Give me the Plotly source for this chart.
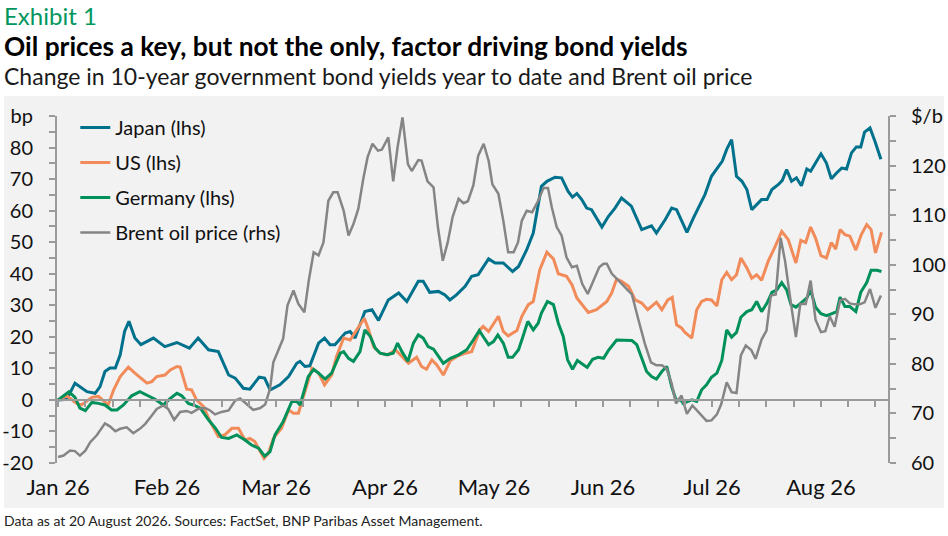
import plotly.graph_objs as go

# x = trading-day index from start of year (labels every 20 days, ticks every 5)
month_pos = [0, 20, 40, 60, 80, 100, 120, 140]
month_labels = ["Jan 26", "Feb 26", "Mar 26", "Apr 26", "May 26", "Jun 26", "Jul 26", "Aug 26"]

bp_ticks = [-20, -10, 0, 10, 20, 30, 40, 50, 60, 70, 80, 90]
bp_labels = ["-20", "-10", "0", "10", "20", "30", "40", "50", "60", "70", "80", "bp"]
oil_ticks = [60, 70, 80, 90, 100, 110, 120, 130]
oil_labels = ["60", "70", "80", "90", "100", "110", "120", "$/b"]

japan_x = [0, 1.6, 3.1, 4.0, 5.3, 6.8, 7.7, 8.6, 9.5, 10.5, 11.4, 12.2, 13.0, 14.1, 15.2, 17.5, 19.6,
           21.8, 24.1, 25.7, 27.6, 29.4, 31.3, 32.5, 34.0, 35.2, 36.9, 37.9, 38.9, 39.2, 40.7, 42.3,
           43.8, 44.4, 45.3, 46.2, 47.8, 48.9, 49.9, 50.8, 52.7, 53.6, 54.5, 56.3, 57.6, 58.8, 60.6,
           62.5, 64.0, 66.1, 67.0, 68.2, 69.8, 71.0, 71.9, 73.1, 74.7, 75.9, 77.1, 77.4, 79.0, 80.2,
           81.7, 83.4, 84.5, 86.0, 87.2, 88.7, 89.7, 91.2, 92.4, 93.6, 94.4, 95.2, 96.1, 97.0, 97.9,
           99.8, 101.0, 102.2, 103.4, 105.2, 107.1, 108.9, 109.8, 111.4, 112.6, 113.5, 114.4, 115.4,
           116.6, 117.8, 118.7, 119.9, 121.2, 121.9, 122.7, 123.6, 124.5, 125.5, 126.4, 127.3, 128.2,
           129.1, 130.1, 131.0, 132.2, 132.9, 133.7, 134.6, 135.5, 136.4, 137.4, 138.1, 139.0, 140.0,
           141.0, 141.9, 142.9, 143.8, 144.7, 145.6, 146.5, 147.3, 148.0, 149.0, 149.9, 151.0]
japan_bp = [0, 0.2, 5.3, 4.2, 2.6, 2.1, 4.2, 9.0, 10.1, 10.1, 14.3, 21.7, 24.9, 19.6, 17.5, 19.6, 16.9,
            18.2, 16.4, 19.6, 15.9, 15.3, 7.9, 6.9, 3.7, 3.4, 7.2, 6.9, 3.2, 3.4, 4.8, 7.4,
            11.6, 12.2, 10.6, 10.8, 18.0, 19.6, 17.5, 17.5, 21.2, 21.7, 19.6, 28.0, 28.6, 25.2, 31.7,
            33.9, 31.2, 37.6, 37.6, 34.1, 34.4, 33.3, 31.7, 33.3, 36.0, 39.2, 39.7, 40.5, 44.7, 43.4,
            43.4, 40.7, 42.3, 47.6, 52.9, 67.7, 69.3, 70.6, 70.4, 66.1, 64.3, 65.4, 63.5, 60.8, 60.3,
            54.8, 58.2, 60.8, 64.0, 61.4, 54.0, 55.2, 52.9, 57.1, 60.8, 60.3, 57.1, 53.1,
            57.7, 61.9, 65.1, 70.9, 74.1, 75.7, 79.4, 82.5, 70.9, 69.3, 66.7, 60.3, 61.9,
            63.5, 63.5, 66.7, 68.3, 69.6, 73.0, 69.3, 70.4, 67.9, 73.2, 72.5, 75.1, 78.0,
            75.1, 70.1, 72.0, 73.5, 73.2, 78.3, 80.2, 80.2, 84.9, 86.2, 82.0, 76.3]

us_x = [0, 1.6, 3.4, 4.3, 6.2, 7.4, 9.2, 10.2, 11.4, 12.9, 14.1, 15.2, 16.3, 17.2, 18.1, 19.6, 20.6,
        21.8, 22.4, 23.6, 24.5, 25.4, 26.7, 27.9, 29.4, 30.6, 31.9, 33.1, 34.3, 35.2, 36.1, 37.8,
        38.6, 39.5, 41.0, 42.3, 43.2, 44.1, 45.0, 46.6, 47.8, 48.9, 50.2, 51.1, 52.4, 53.6, 54.5,
        56.2, 57.0, 57.9, 59.1, 60.6, 61.9, 63.1, 64.3, 65.8, 66.7, 67.6, 68.6, 69.5, 70.7, 72.0,
        73.2, 74.7, 75.9, 77.4, 78.0, 79.0, 79.9, 80.8, 81.7, 82.6, 84.2, 85.1, 86.3, 87.2, 88.4,
        89.7, 90.9, 91.8, 93.3, 94.3, 95.2, 96.1, 97.3, 98.8, 100.7, 101.6, 102.5, 103.4, 104.7,
        105.9, 107.1, 108.2, 109.8, 110.8, 111.9, 112.7, 113.5, 114.4, 115.0, 116.3, 117.2, 118.1,
        119.0, 119.9, 120.9, 121.8, 122.7, 123.6, 124.5, 125.3, 126.4, 127.3, 128.2, 129.1, 130.3,
        131.6, 132.8, 134.0, 135.4, 136.3, 137.2, 138.1, 139.0, 140.0, 141.0, 141.9, 142.7, 143.5,
        144.4, 145.3, 146.4, 147.4, 148.4, 149.2, 150.0, 151.1]
us_bp = [0, 1.3, -1.1, -1.6, 0.8, 1.1, -1.6, 3.2, 7.4, 10.4, 8.5, 6.9, 5.3, 5.8, 7.4, 7.9, 9.5,
         10.6, 10.4, 3.4, 3.2, 0, -2.1, -6.9, -11.6, -11.1, -9.0, -9.0, -12.7, -12.2, -13.2, -18.5,
         -16.9, -12.2, -9.0, -3.2, -4.2, -4.2, 1.1, 10.0, 8.5, 4.8, 7.9, 13.8, 19.6, 19.0, 21.4,
         25.9, 22.2, 16.9, 14.8, 14.3, 15.9, 13.8, 11.6, 13.5, 10.6, 9.7, 12.7, 11.1, 7.9, 12.5,
         13.8, 14.8, 15.3, 22.2, 23.3, 21.7, 24.3, 26.5, 21.7, 20.3, 22.0, 26.5, 30.2, 31.2, 41.3,
         46.8, 44.7, 40.0, 39.2, 36.5, 32.3, 30.2, 27.7, 28.6, 31.2, 33.9, 38.3, 37.6, 36.0,
         31.7, 30.7, 28.6, 31.0, 28.6, 31.7, 32.5, 23.8, 22.8, 21.5, 19.6, 28.6, 31.2,
         31.9, 31.7, 29.8, 38.1, 40.4, 38.1, 39.7, 45.0, 41.8, 38.6, 39.7, 37.9, 43.9,
         48.7, 53.4, 50.8, 43.4, 50.6, 49.9, 54.8, 51.3, 45.7, 45.0, 49.9, 47.8, 54.0,
         52.4, 51.9, 47.5, 52.4, 55.6, 54.0, 46.6, 53.1]

germany_x = [0, 2.0, 3.1, 4.0, 5.0, 6.2, 7.4, 8.6, 9.8, 10.8, 12.0, 13.5, 15.0, 16.3, 17.8, 19.3, 20.6,
             21.8, 22.7, 23.9, 24.8, 26.1, 27.6, 28.9, 30.0, 31.3, 32.8, 34.3, 35.5, 36.8, 37.9, 38.9,
             39.8, 41.3, 42.9, 43.8, 44.4, 45.9, 46.9, 47.8, 49.0, 50.2, 51.8, 52.4, 53.3, 54.2, 55.4,
             56.3, 57.3, 58.2, 59.1, 60.3, 61.5, 62.3, 63.1, 64.2, 65.2, 66.1, 67.0, 67.9, 68.9, 70.7,
             72.0, 73.5, 75.0, 76.2, 77.3, 78.0, 79.0, 79.9, 80.7, 81.7, 82.6, 83.4, 84.5, 85.4, 86.2,
             87.2, 88.1, 88.7, 89.8, 90.9, 91.8, 92.7, 93.5, 94.4, 95.3, 96.2, 97.1, 98.1, 99.1, 100.1,
             101.0, 102.5, 103.7, 105.3, 106.2, 107.1, 108.0, 108.9, 109.8, 110.8, 111.7, 112.6, 113.4,
             114.3, 114.7, 116.3, 117.2, 118.1, 119.0, 119.9, 120.9, 121.8, 122.7, 123.6, 124.5, 125.3,
             126.4, 127.3, 128.2, 129.1, 130.1, 131.0, 131.9, 132.8, 133.7, 134.5, 135.4, 136.3, 137.4,
             138.1, 139.0, 140.0, 141.0, 141.9, 142.9, 143.5, 144.4, 145.3, 146.4, 147.3, 148.4, 149.2,
             150.3, 151.1]
germany_bp = [0, 2.6, 0.8, -2.6, -3.4, -0.8, -1.1, -1.6, -3.2, -3.2, -1.6, 1.3, 2.6, 1.6, 0.2, -1.6, 0.5,
              2.1, 1.3, -1.1, -1.6, -2.6, -6.3, -9.0, -11.9, -12.2, -11.1, -12.7, -14.3, -15.3, -17.8, -16.4,
              -11.1, -6.9, -0.5, -0.5, -1.6, 7.4, 9.7, 8.5, 6.6, 8.5, 14.8, 15.3, 13.2, 12.2, 15.3,
              22.2, 20.1, 16.4, 14.8, 14.3, 14.8, 18.0, 15.3, 12.2, 18.0, 20.6, 19.6, 16.9, 16.1, 11.6,
              13.2, 14.3, 15.9, 19.0, 22.0, 20.1, 17.5, 18.5, 20.6, 18.0, 13.5, 13.5, 15.9, 20.6, 24.9,
              22.2, 24.3, 27.5, 31.2, 30.2, 24.3, 20.1, 12.7, 9.7, 12.5, 11.4, 10.3, 12.9, 13.5, 13.2,
              15.7, 19.0, 19.0, 18.8, 17.5, 13.2, 9.0, 7.4, 6.6, 9.0, 10.6, 4.2, 0,
              0, -1.1, 0, -0.5, 3.2, 4.8, 7.2, 8.5, 12.5, 22.2, 19.9, 21.4, 26.2,
              28.0, 28.6, 31.2, 28.0, 30.7, 34.1, 34.9, 37.2, 34.9, 30.2, 29.4, 30.7, 32.3,
              34.9, 29.4, 27.3, 26.7, 27.3, 28.0, 32.6, 29.6, 29.6, 28.0, 34.1, 37.2, 41.1,
              41.1, 40.7]

brent_x = [0, 1.0, 2.2, 3.1, 4.0, 5.0, 5.9, 7.1, 8.6, 9.5, 10.5, 11.4, 12.6, 13.8, 15.0, 16.0, 17.2,
           18.1, 19.3, 20.2, 21.3, 22.4, 23.6, 24.5, 25.7, 27.0, 27.9, 28.8, 30.0, 31.3, 32.5, 33.4,
           34.6, 35.8, 37.1, 38.0, 38.9, 39.5, 40.4, 41.3, 42.1, 43.2, 44.1, 45.2, 46.0, 46.9, 47.8,
           48.7, 49.6, 50.5, 51.3, 52.4, 53.3, 54.2, 55.1, 56.0, 56.8, 57.7, 58.7, 59.4, 60.6, 61.5,
           62.3, 63.2, 64.2, 64.9, 66.1, 66.7, 67.8, 68.9, 69.7, 70.6, 71.5, 72.4, 73.5, 74.4, 75.2,
           76.2, 77.1, 78.1, 79.0, 79.7, 80.8, 81.7, 82.6, 83.6, 84.4, 85.1, 86.0, 87.0, 88.1, 89.1,
           89.9, 90.6, 91.5, 92.4, 93.3, 94.3, 95.2, 96.2, 97.2, 98.2, 99.3, 100.1, 100.7, 101.6,
           102.8, 104.0, 105.3, 106.5, 107.7, 108.8, 109.8, 110.8, 111.7, 112.6, 113.4, 114.4, 115.4,
           116.4, 117.5, 119.0, 119.9, 120.9, 121.7, 122.7, 123.6, 124.5, 125.3, 126.2, 127.2, 128.0,
           129.1, 130.0, 130.8, 131.7, 132.6, 133.4, 134.5, 135.4, 136.2, 137.2, 138.1, 139.0, 140.0,
           140.8, 141.6, 142.5, 143.5, 144.4, 145.3, 146.2, 147.1, 148.0, 149.0, 150.0, 151.0]
brent_usd = [61.2, 61.5, 62.5, 62.4, 61.5, 62.5, 64.2, 65.6, 68.0, 67.4, 66.4, 66.9, 67.2, 66.0, 66.9, 67.9, 69.6,
             70.9, 71.6, 70.9, 68.7, 70.3, 70.5, 70.1, 70.9, 71.1, 70.6, 69.8, 70.3, 70.6, 72.6, 73.0,
             71.9, 70.7, 71.1, 71.8, 75.0, 80.3, 82.7, 85.1, 91.8, 94.8, 92.1, 90.4, 96.8, 102.5, 101.9,
             104.5, 112.9, 114.6, 114.6, 110.9, 105.9, 108.2, 111.3, 117.3, 121.7, 124.4, 123.0, 123.2, 125.7, 116.8,
             123.7, 129.7, 120.3, 118.9, 121.1, 121.0, 116.8, 115.6, 107.6, 100.8, 104.5, 109.6, 113.3, 112.4, 112.8,
             116.0, 122.0, 124.4, 121.0, 116.2, 114.3, 108.9, 102.5, 102.5, 104.5, 108.9, 110.9, 110.6, 112.9, 115.5,
             115.5, 111.6, 107.6, 105.9, 101.5, 99.5, 99.8, 96.1, 94.1, 96.5, 99.5, 100.2, 100.2, 98.2,
             96.8, 95.5, 94.0, 88.9, 84.0, 80.3, 79.7, 79.7, 79.0, 76.0, 72.0, 73.6, 69.9,
             71.6, 70.3, 68.5, 68.6, 69.8, 71.9, 76.3, 74.3, 74.1, 81.7, 83.7, 82.8, 81.0,
             84.9, 86.7, 93.8, 94.0, 105.4, 100.8, 92.1, 85.4, 92.1, 92.1, 96.8, 88.9, 86.4,
             86.6, 89.6, 87.5, 92.8, 93.1, 92.2, 92.0, 92.0, 92.4, 95.1, 91.3, 93.8]

FONT = "Lato"
AXIS_GREY = "#9a9a9a"
PANEL = "#f2f2f2"

fig = go.Figure()
fig.add_trace(go.Scatter(x=japan_x, y=japan_bp, name="Japan (lhs)", mode="lines",
                         line=dict(color="#00718c", width=3), legendgroup="a"))
fig.add_trace(go.Scatter(x=us_x, y=us_bp, name="US (lhs)", mode="lines",
                         line=dict(color="#f28b5a", width=3), legendgroup="b"))
fig.add_trace(go.Scatter(x=germany_x, y=germany_bp, name="Germany (lhs)", mode="lines",
                         line=dict(color="#00915a", width=3), legendgroup="c"))
fig.add_trace(go.Scatter(x=brent_x, y=brent_usd, name="Brent oil price (rhs)", mode="lines",
                         line=dict(color="#858585", width=2.5), legendgroup="d", yaxis="y2"))

tick_style = dict(ticks="outside", ticklen=6, tickcolor=AXIS_GREY, tickwidth=1.5)

# plot area: px 57..888 horizontally, 116..463 vertically
fig.update_layout(
    width=948, height=536,
    margin=dict(l=57, r=60, t=116, b=73),
    paper_bgcolor="white",
    plot_bgcolor=PANEL,
    font=dict(family=FONT, color="#111111", size=20),
    showlegend=True,
    legend=dict(x=0.022, y=1.023, xanchor="left", yanchor="top",
                bgcolor="rgba(0,0,0,0)", font=dict(size=20, family=FONT),
                traceorder="grouped", tracegroupgap=6),
    xaxis=dict(range=[-0.2, 152.3], anchor="free", position=0.1818,
               tickvals=month_pos, ticktext=month_labels, **tick_style,
               minor=dict(tick0=0, dtick=5, showgrid=False, **tick_style),
               showline=True, linecolor=AXIS_GREY, linewidth=2,
               showgrid=False, zeroline=False, automargin=False,
               ticklabelstandoff=62, tickfont=dict(size=22)),
    yaxis=dict(range=[-20, 90], tickvals=bp_ticks, ticktext=bp_labels, **tick_style,
               minor=dict(tick0=-20, dtick=5, showgrid=False, **tick_style),
               showline=True, linecolor=AXIS_GREY, linewidth=2,
               showgrid=False, zeroline=False, automargin=False, ticklabelstandoff=12),
    yaxis2=dict(range=[60, 130], overlaying="y", side="right",
                tickvals=oil_ticks, ticktext=oil_labels, **tick_style,
                minor=dict(tick0=60, dtick=5, showgrid=False, **tick_style),
                showline=True, linecolor=AXIS_GREY, linewidth=2,
                showgrid=False, zeroline=False, automargin=False, ticklabelstandoff=11),
)

# grey panel behind the chart
fig.add_shape(type="rect", xref="paper", yref="paper",
              x0=-0.0638, x1=1.0674, y0=-0.1297, y1=1.0576,
              fillcolor=PANEL, line=dict(width=0), layer="below")

texts = [
    ("Exhibit 1", 1.291, 24, "#00965e", False),
    ("Oil prices a key, but not the only, factor driving bond yields", 1.2017, 26.3, "#000000", True),
    ("Change in 10-year government bond yields year to date and Brent oil price", 1.1153, 23, "#1a1a1a", False),
    ("Data as at 20 August 2026. Sources: FactSet, BNP Paribas Asset Management.", -0.167, 14, "#222222", False),
]
for txt, ypos, size, color, bold in texts:
    fig.add_annotation(text=f"<b>{txt}</b>" if bold else txt, xref="paper", yref="paper",
                       x=-0.0662, y=ypos, xanchor="left", yanchor="middle", showarrow=False,
                       font=dict(size=size, color=color, family=FONT))

# the page keeps the browser's default 8px body margin otherwise
fig.write_html("out.html", config={"displayModeBar": False},
               post_script="document.body.style.margin='0';")
